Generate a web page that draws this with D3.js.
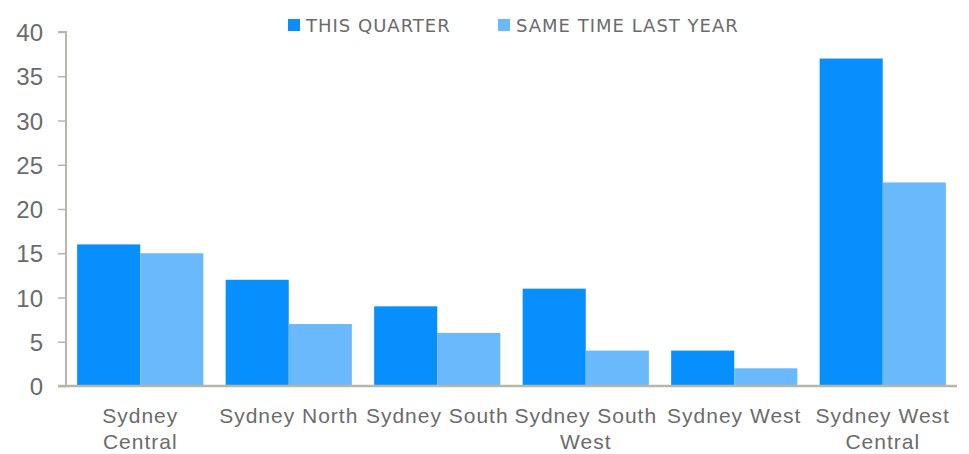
<!DOCTYPE html>
<html>
<head>
<meta charset="utf-8">
<script src="https://cdn.jsdelivr.net/npm/d3@7"></script>
<style>
  body { margin: 0; background: #fff; }
  svg { display: block; font-family: "DejaVu Sans", sans-serif; }
  .tick text { fill: #6b6b6b; }
</style>
</head>
<body>
<svg width="969" height="454"></svg>
<script>
const regions = ['Sydney Central', 'Sydney North', 'Sydney South', 'Sydney South West', 'Sydney West', 'Sydney West Central']
const regionLines = [['Sydney', 'Central'], ['Sydney North'], ['Sydney South'], ['Sydney South', 'West'], ['Sydney West'], ['Sydney West', 'Central']]
const seriesNames = ['THIS QUARTER', 'SAME TIME LAST YEAR']
const thisQuarter = [16, 12, 9, 11, 4, 37]
const lastYear = [15, 7, 6, 4, 2, 23]
const yTicks = [0, 5, 10, 15, 20, 25, 30, 35, 40]

const colors = ['#0790fd', '#69b9fc']
const axisColor = '#b7b7a9'

const svg = d3.select('svg')
const margin = { top: 32, right: 12, bottom: 68, left: 66 }
const width = 969 - margin.left - margin.right
const height = 454 - margin.top - margin.bottom

const g = svg.append('g').attr('transform', `translate(${margin.left},${margin.top})`)

const x0 = d3.scaleBand().domain(regions).range([0, width]).paddingInner(0.15).paddingOuter(0.075)
const x1 = d3.scaleBand().domain(seriesNames).range([0, x0.bandwidth()])
const y = d3.scaleLinear().domain([0, 40]).range([height, 0])

const rows = regions.map((r, i) => ({ region: r, values: [thisQuarter[i], lastYear[i]] }))

g.selectAll('.group')
  .data(rows)
  .enter()
  .append('g')
  .attr('class', 'group')
  .attr('transform', d => `translate(${x0(d.region)},0)`)
  .selectAll('rect')
  .data(d => d.values.map((v, i) => ({ key: seriesNames[i], value: v, i })))
  .enter()
  .append('rect')
  .attr('x', d => x1(d.key))
  .attr('width', x1.bandwidth())
  .attr('y', d => y(d.value))
  .attr('height', d => height - y(d.value))
  .attr('fill', d => colors[d.i])

// y axis
const yAxis = g.append('g')
  .call(d3.axisLeft(y).tickValues(yTicks).tickSize(8).tickPadding(15))
yAxis.select('.domain').attr('stroke', axisColor).attr('stroke-width', 2).attr('d', `M-8,0H0V${height}`)
yAxis.selectAll('.tick line').attr('stroke', axisColor).attr('stroke-width', 1.5)
yAxis.selectAll('.tick text').attr('font-size', 24).attr('dy', '0.36em')

// x axis baseline
const xAxis = g.append('g')
  .attr('transform', `translate(0,${height})`)
  .call(d3.axisBottom(x0).tickSize(0).tickFormat(''))
xAxis.select('.domain').attr('stroke', axisColor).attr('stroke-width', 2.5).attr('d', `M-8,0H${width}`)

xAxis.selectAll('.tick').each(function (d, i) {
  const t = d3.select(this).select('text').text(null)
    .attr('font-size', 21)
    .attr('letter-spacing', 1)
    .attr('y', 0)
    .attr('dy', null)
  regionLines[i].forEach((line, j) => {
    t.append('tspan').attr('x', 0).attr('y', 37 + j * 26).text(line)
  })
})

// legend
const legendItems = [{ x: 288, label: seriesNames[0], c: colors[0] }, { x: 498, label: seriesNames[1], c: colors[1] }]
const legend = svg.append('g').attr('class', 'legend')
legend.selectAll('rect')
  .data(legendItems)
  .enter()
  .append('rect')
  .attr('x', d => d.x)
  .attr('y', 19)
  .attr('width', 12)
  .attr('height', 12)
  .attr('fill', d => d.c)
legend.selectAll('text')
  .data(legendItems)
  .enter()
  .append('text')
  .attr('x', d => d.x + 18)
  .attr('y', 32)
  .attr('font-size', 18)
  .attr('letter-spacing', 1)
  .attr('fill', '#6b6b6b')
  .text(d => d.label)
</script>
</body>
</html>
